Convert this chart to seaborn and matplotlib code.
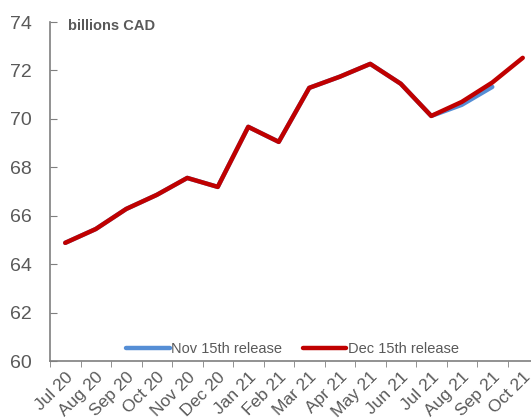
import numpy as np
import pandas as pd
import matplotlib.pyplot as plt
import seaborn as sns

months = ["Jul 20", "Aug 20", "Sep 20", "Oct 20", "Nov 20", "Dec 20", "Jan 21", "Feb 21",
          "Mar 21", "Apr 21", "May 21", "Jun 21", "Jul 21", "Aug 21", "Sep 21", "Oct 21"]
dec_release = [64.88, 65.45, 66.28, 66.86, 67.56, 67.19, 69.67, 69.05,
               71.28, 71.74, 72.27, 71.45, 70.12, 70.70, 71.50, 72.52]
nov_release = [64.88, 65.45, 66.28, 66.86, 67.56, 67.19, 69.67, 69.05,
               71.28, 71.74, 72.27, 71.45, 70.12, 70.58, 71.32, np.nan]
series_names = ["Nov 15th release", "Dec 15th release"]
series_colors = ["#558ED5", "#C00000"]
y_ticks = [60, 62, 64, 66, 68, 70, 72, 74]

sns.set_style("white")
plt.rcParams['font.family'] = ['Liberation Sans', 'DejaVu Sans']

grey = "#595959"
x = np.arange(len(months))
df = pd.DataFrame({"x": np.concatenate([x, x]),
                   "value": nov_release + dec_release,
                   "series": [series_names[0]] * len(x) + [series_names[1]] * len(x)})

fig = plt.figure(figsize=(5.31, 4.2), dpi=100)
ax = fig.add_axes([50 / 531, 1 - 361 / 420, 488 / 531, 339 / 420])

sns.lineplot(data=df.dropna(), x="x", y="value", hue="series", palette=series_colors,
             hue_order=series_names, linewidth=3.2, ax=ax, solid_capstyle="round")

ax.set_xlim(-0.5, len(months) - 0.5)
ax.set_ylim(60, 74)
ax.set_yticks(y_ticks)
ax.set_xticks(x)
ax.set_xticklabels(months, rotation=45, ha="right", rotation_mode="anchor")
ax.set_xticks(np.arange(-0.5, len(months), 1), minor=True)
ax.tick_params(axis="x", which="major", length=0, labelsize=12.5, labelcolor=grey, pad=6)
ax.tick_params(axis="x", which="minor", length=4, direction="out", color="#7f7f7f", bottom=True)
ax.tick_params(axis="y", length=5, direction="in", color="#7f7f7f", labelsize=14,
               labelcolor=grey, left=True, pad=13)
ax.set_xlabel("")
ax.set_ylabel("")
for s in ["top", "right"]:
    ax.spines[s].set_visible(False)
for s in ["left", "bottom"]:
    ax.spines[s].set_color("#7f7f7f")
    ax.spines[s].set_linewidth(1.2)

fig.text(68 / 531, 1 - 19 / 420, "billions CAD", fontsize=10.5,
         fontweight="bold", color=grey, va="top", ha="left")

leg = ax.legend(loc="lower center", bbox_to_anchor=(0.497, -0.025), ncol=2, frameon=False,
                fontsize=10.5, handlelength=3, handletextpad=0.1, columnspacing=1.4,
                labelcolor=grey)

fig.savefig("out.png", dpi=100)
